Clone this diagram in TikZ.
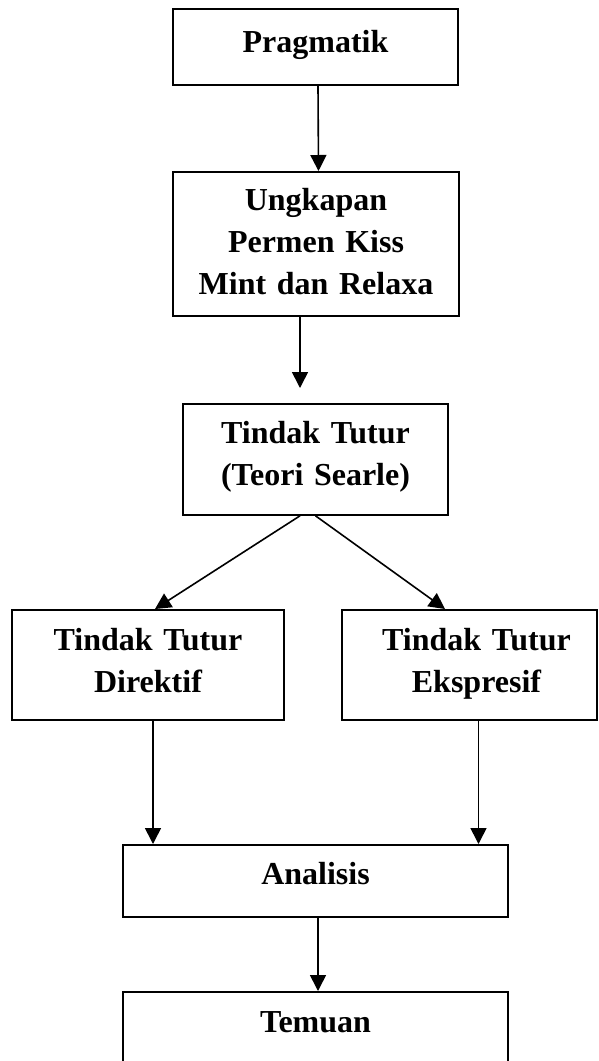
\documentclass[tikz,border=0pt]{standalone}
\usepackage{fontspec}
\setmainfont{Liberation Serif}
\usetikzlibrary{arrows.meta}

\begin{document}
\begin{tikzpicture}[x=1pt, y=-1pt,
  box/.style={draw, line width=1.8pt, inner xsep=0pt, inner ysep=0pt, anchor=north,
    align=center, font=\fontsize{32}{42}\selectfont\bfseries},
  arr/.style={line width=1.6pt, -{Triangle[length=16pt, width=16pt]}}]

\useasboundingbox (0,0) rectangle (598,1061);
\clip (0,0) rectangle (598,1061);

  % Boxes
  \node[box, text width=285pt, text height=44pt, text depth=32pt] (prag) at (315.5,8) {Pragmatik};
  \node[box, text width=286pt, text height=39pt, text depth=105pt] (ungk) at (316,171)
    {Ungkapan\\Permen Kiss\\Mint dan Relaxa};
  \node[box, text width=265pt, text height=40pt, text depth=71pt] (tindak) at (315.5,403)
    {Tindak Tutur\\(Teori Searle)};
  \node[box, text width=272pt, text height=41pt, text depth=69pt] (direk) at (148,609)
    {Tindak Tutur\\Direktif};
  \node[box, text width=255pt, text height=41pt, text depth=69pt] (ekspr) at (469.5,609)
    {\hspace*{14pt}Tindak Tutur\\\hspace*{14pt}Ekspresif};
  \node[box, text width=385pt, text height=40pt, text depth=32pt] (anal) at (315.5,844) {Analisis};
  \node[box, text width=385pt, text height=41pt, text depth=99pt] (temu) at (315.5,991) {Temuan};

  % Connectors
  \draw[arr] ([xshift=2.5pt]prag.south) -- ([xshift=2.5pt]ungk.north);
  \draw[arr] ([xshift=-16pt]ungk.south) -- ([xshift=-15.5pt, yshift=15pt]tindak.north);
  \draw[arr] ([xshift=-15.5pt]tindak.south) -- ([xshift=7pt]direk.north);
  \draw[arr] (tindak.south) -- ([xshift=-24.5pt]ekspr.north);
  \draw[arr] ([xshift=5pt]direk.south) -- ([xshift=5pt]direk.south |- anal.north);
  \draw[arr] ([xshift=9pt]ekspr.south) -- ([xshift=9pt]ekspr.south |- anal.north);
  \draw[arr] ([xshift=2.5pt]anal.south) -- ([xshift=2.5pt]temu.north);

\end{tikzpicture}
\end{document}
